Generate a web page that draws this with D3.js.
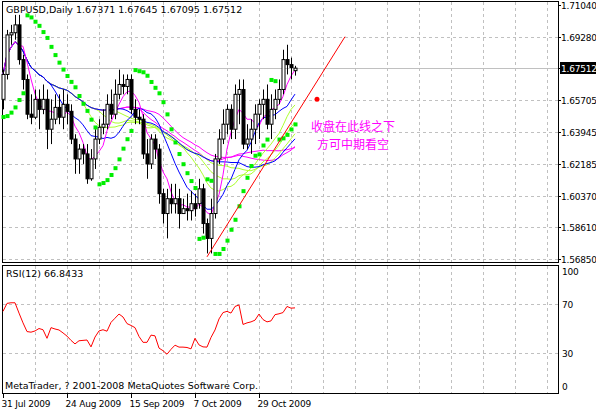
<!DOCTYPE html>
<html lang="zh">
<head>
<meta charset="UTF-8">
<title>GBPUSD,Daily</title>
<script src="https://d3js.org/d3.v7.min.js"></script>
<style>
  body { margin: 0; background: #fff; }
  text { font-family: "DejaVu Sans", sans-serif; font-size: 9.5px; }
  .ax { font-size: 9px; letter-spacing: -0.2px; }
</style>
</head>
<body>
<script>
    // Daily bars, 31 Jul 2009 .. 4 Nov 2009
    var opens = [1.6577,1.6716,1.6937,1.6949,1.6993,1.6799,1.6688,1.6494,1.6477,1.6577,1.6521,1.6577,1.6410,1.6466,1.6532,1.6477,1.6549,1.6510,1.6355,1.6244,1.6299,1.6272,1.6133,1.6244,1.6355,1.6421,1.6438,1.6549,1.6494,1.6605,1.6660,1.6649,1.6688,1.6521,1.6477,1.6466,1.6272,1.6216,1.6355,1.6299,1.6050,1.5939,1.6022,1.5994,1.6022,1.5939,1.5966,1.5955,1.5994,1.5994,1.6077,1.5883,1.5800,1.5939,1.6244,1.6355,1.6438,1.6521,1.6410,1.6605,1.6632,1.6327,1.6355,1.6410,1.6494,1.6549,1.6577,1.6438,1.6521,1.6577,1.6632,1.6799,1.6771,1.67371];
    var highs = [1.6743,1.6965,1.6993,1.7049,1.7049,1.6827,1.6716,1.6605,1.6632,1.6632,1.6660,1.6632,1.6577,1.6605,1.6605,1.6632,1.6605,1.6549,1.6382,1.6327,1.6327,1.6327,1.6299,1.6410,1.6466,1.6521,1.6605,1.6632,1.6688,1.6743,1.6716,1.6716,1.6716,1.6577,1.6521,1.6494,1.6355,1.6382,1.6382,1.6327,1.6077,1.6077,1.6105,1.6105,1.6077,1.6022,1.6050,1.6066,1.6050,1.6133,1.6105,1.5911,1.6022,1.6272,1.6410,1.6521,1.6549,1.6549,1.6660,1.6688,1.6688,1.6438,1.6466,1.6549,1.6577,1.6632,1.6660,1.6605,1.6632,1.6688,1.6854,1.6882,1.6810,1.67645];
    var lows = [1.6521,1.6688,1.6882,1.6910,1.6771,1.6632,1.6466,1.6438,1.6466,1.6410,1.6494,1.6299,1.6327,1.6438,1.6438,1.6410,1.6438,1.6327,1.6161,1.6161,1.6216,1.6105,1.6122,1.6188,1.6327,1.6382,1.6410,1.6466,1.6466,1.6577,1.6605,1.6605,1.6494,1.6438,1.6438,1.6244,1.6133,1.6188,1.6244,1.5994,1.5883,1.5800,1.5939,1.5939,1.5855,1.5939,1.5900,1.5900,1.5922,1.5966,1.5827,1.5716,1.5716,1.5911,1.6216,1.6327,1.6382,1.6355,1.6355,1.6438,1.6299,1.6299,1.6272,1.6327,1.6355,1.6466,1.6410,1.6355,1.6466,1.6549,1.6605,1.6716,1.6688,1.67095];
    var closes = [1.6716,1.6937,1.6949,1.6993,1.6799,1.6688,1.6494,1.6477,1.6577,1.6521,1.6577,1.6410,1.6466,1.6532,1.6477,1.6549,1.6510,1.6355,1.6244,1.6299,1.6272,1.6133,1.6244,1.6355,1.6421,1.6438,1.6549,1.6494,1.6605,1.6660,1.6649,1.6688,1.6521,1.6477,1.6466,1.6272,1.6216,1.6355,1.6299,1.6050,1.5939,1.6022,1.5994,1.6022,1.5939,1.5966,1.5955,1.5994,1.5966,1.6077,1.5883,1.5800,1.5939,1.6244,1.6355,1.6438,1.6521,1.6410,1.6605,1.6632,1.6327,1.6355,1.6410,1.6494,1.6549,1.6577,1.6438,1.6521,1.6577,1.6632,1.6799,1.6771,1.6755,1.67512];
    // RSI(12)
    var rsi = [64,70.5,71,71,62.6,54.6,47.5,47,48,50,49,42,50.7,49.6,48.8,46.4,43.8,40.3,37.4,40,40.3,40.6,35,43,48,49,47.8,55,58.4,61.8,59.4,54,52.5,50.7,43.5,38.7,38.7,44.6,44,34,31.9,29,33,36.4,34.8,34.8,34.5,33.4,42,36.6,35,34.8,42.7,48.8,57.8,63,64,62.6,68,69.2,53.3,54.6,55.4,56.8,61.8,57.3,55.4,56.2,61.3,62,63,68,66.6,66.8433];
    var priceTicks = [1.71040,1.69280,1.67512,1.65705,1.63945,1.62185,1.60370,1.58610,1.56850];
    var rsiTicks = [100,70,30,0];
    var dateLabels = [{bar:0,t:"31 Jul 2009"},{bar:16,t:"24 Aug 2009"},{bar:32,t:"15 Sep 2009"},{bar:48,t:"7 Oct 2009"},{bar:64,t:"29 Oct 2009"}];
    // trend line (bar, price) and marker
    var trendLine = [{bar:51,p:1.5697},{bar:85.5,p:1.6927}];
    var marker = {bar:78.5,p:1.6577};
    var note = ["收盘在此线之下","方可中期看空"];
    // moving averages: period, colour
    var maDefs = [[5,"#ff00ff"],[12,"#0000ff"],[30,"#0000ff"],[20,"#adff2f"],[24,"#adff2f"],[28,"#adff2f"],[34,"#ff00ff"],[40,"#ff00ff"]];

    var W = 596, H = 410, L = 2, R = 558;
    var svg = d3.select("body").append("svg").attr("width", W).attr("height", H);

    var x = d3.scaleLinear().domain([0, 1]).range([3, 7]);
    var y = d3.scaleLinear().domain([1.56850, 1.71040]).range([259, 5]);
    var yr = d3.scaleLinear().domain([30, 70]).range([353, 304]);

    // panels
    svg.append("rect").attr("x", L + 0.5).attr("y", 1.5).attr("width", R - L).attr("height", 261).attr("fill", "none").attr("stroke", "#000");
    svg.append("rect").attr("x", L + 0.5).attr("y", 265.5).attr("width", R - L).attr("height", 128).attr("fill", "none").attr("stroke", "#000");

    // grids
    var gridBars = d3.range(8, 140, 8).filter(function (b) { return x(b) < R; });
    var grid = svg.append("g").attr("stroke", "#c0c0c0").attr("stroke-dasharray", "3,3");
    gridBars.forEach(function (b) {
        grid.append("line").attr("x1", Math.round(x(b)) + 0.5).attr("x2", Math.round(x(b)) + 0.5).attr("y1", 2).attr("y2", 262);
        grid.append("line").attr("x1", Math.round(x(b)) + 0.5).attr("x2", Math.round(x(b)) + 0.5).attr("y1", 266).attr("y2", 393);
    });
    priceTicks.forEach(function (p, i) {
        if (i === 0 || i === 2) return;
        grid.append("line").attr("x1", 3).attr("x2", R).attr("y1", Math.round(y(p)) + 0.5).attr("y2", Math.round(y(p)) + 0.5);
    });
    [70, 30].forEach(function (v) {
        grid.append("line").attr("x1", 3).attr("x2", R).attr("y1", Math.round(yr(v)) + 0.5).attr("y2", Math.round(yr(v)) + 0.5);
    });
    // current price line
    svg.append("line").attr("x1", 3).attr("x2", R).attr("y1", Math.round(y(closes[closes.length - 1])) + 0.5)
        .attr("y2", Math.round(y(closes[closes.length - 1])) + 0.5).attr("stroke", "#c0c0c0");

    // price axis
    var pa = svg.append("g");
    priceTicks.forEach(function (p, i) {
        var yy = Math.round(y(p)) + 0.5;
        pa.append("line").attr("x1", R).attr("x2", R + 3).attr("y1", yy).attr("y2", yy).attr("stroke", "#000");
        if (i === 2) {
            pa.append("rect").attr("x", R + 2).attr("y", yy - 6.5).attr("width", 36).attr("height", 12).attr("fill", "#000");
            pa.append("text").attr("class", "ax").attr("x", R + 3).attr("y", yy + 3.5).attr("fill", "#fff").text(p.toFixed(5));
        } else {
            pa.append("text").attr("class", "ax").attr("x", R + 3).attr("y", yy + 3.5).text(p.toFixed(5));
        }
    });
    rsiTicks.forEach(function (v) {
        var yy = Math.max(271, Math.min(386, yr(v)));
        pa.append("text").attr("class", "ax").attr("x", R + 4).attr("y", yy + 3.5).text(v);
    });
    dateLabels.forEach(function (d) {
        var xx = Math.round(x(d.bar)) + 0.5;
        pa.append("line").attr("x1", xx).attr("x2", xx).attr("y1", 394).attr("y2", 398).attr("stroke", "#000");
        pa.append("text").attr("class", "ax").attr("x", xx - 2).attr("y", 407).text(d.t);
    });

    var main = svg.append("g");

    // moving averages
    function sma(n) {
        return closes.map(function (c, i) {
            return d3.mean(closes.slice(Math.max(0, i - n + 1), i + 1));
        });
    }
    var line = d3.line().x(function (d, i) { return x(i); }).y(function (d) { return y(d); });
    maDefs.slice().reverse().forEach(function (m) {
        main.append("path").attr("d", line(sma(m[0]))).attr("fill", "none").attr("stroke", m[1]).attr("stroke-width", 1);
    });

    // candles
    closes.forEach(function (c, i) {
        var xx = Math.round(x(i)) + 0.5, o = opens[i];
        main.append("line").attr("x1", xx).attr("x2", xx).attr("y1", y(highs[i])).attr("y2", y(lows[i])).attr("stroke", "#000");
        var top = y(Math.max(o, c)), bot = y(Math.min(o, c));
        main.append("rect").attr("x", xx - 1.5).attr("y", top).attr("width", 3).attr("height", Math.max(1, bot - top))
            .attr("fill", c >= o ? "#fff" : "#000").attr("stroke", "#000").attr("stroke-width", 1);
    });

    // parabolic SAR (0.02, 0.2)
    var sar = [], up = true, af = 0.02, ep = highs[0], s = lows[0] - 0.004;
    closes.forEach(function (c, i) {
        if (i > 0) {
            s = s + af * (ep - s);
            if (up) {
                s = Math.min(s, lows[i - 1], i > 1 ? lows[i - 2] : lows[i - 1]);
                if (lows[i] < s) { up = false; s = ep; ep = lows[i]; af = 0.02; }
                else if (highs[i] > ep) { ep = highs[i]; af = Math.min(0.2, af + 0.02); }
            } else {
                s = Math.max(s, highs[i - 1], i > 1 ? highs[i - 2] : highs[i - 1]);
                if (highs[i] > s) { up = true; s = ep; ep = highs[i]; af = 0.02; }
                else if (lows[i] < ep) { ep = lows[i]; af = Math.min(0.2, af + 0.02); }
            }
        }
        sar.push(s);
    });
    main.selectAll(".sar").data(sar).enter().append("rect")
        .attr("x", function (d, i) { return Math.round(x(i)) - 1.5; })
        .attr("y", function (d) { return y(d) - 1.5; })
        .attr("width", 4).attr("height", 4).attr("fill", "#00ee00");

    // trend line and marker
    main.append("line").attr("x1", x(trendLine[0].bar)).attr("y1", y(trendLine[0].p))
        .attr("x2", x(trendLine[1].bar)).attr("y2", y(trendLine[1].p)).attr("stroke", "#ff0000");
    main.append("circle").attr("cx", x(marker.bar)).attr("cy", y(marker.p)).attr("r", 2.5).attr("fill", "#ff0000");
    note.forEach(function (t, i) {
        main.append("text").attr("x", 353).attr("y", 131 + i * 18).attr("text-anchor", "middle")
            .style("font-family", "'Noto Sans CJK SC'").style("font-size", "12px").attr("fill", "#ff00ff").text(t);
    });

    // RSI
    svg.append("path").attr("d", d3.line().x(function (d, i) { return x(i); }).y(function (d) { return yr(d); })(rsi))
        .attr("fill", "none").attr("stroke", "#ff0000");

    // labels
    svg.append("text").attr("x", 6).attr("y", 13).text("GBPUSD,Daily  1.67371 1.67645 1.67095 1.67512");
    svg.append("text").attr("x", 6).attr("y", 277).text("RSI(12) 66.8433");
    svg.append("text").attr("x", 5).attr("y", 389).text("MetaTrader, ? 2001-2008 MetaQuotes Software Corp.");
</script>
</body>
</html>
